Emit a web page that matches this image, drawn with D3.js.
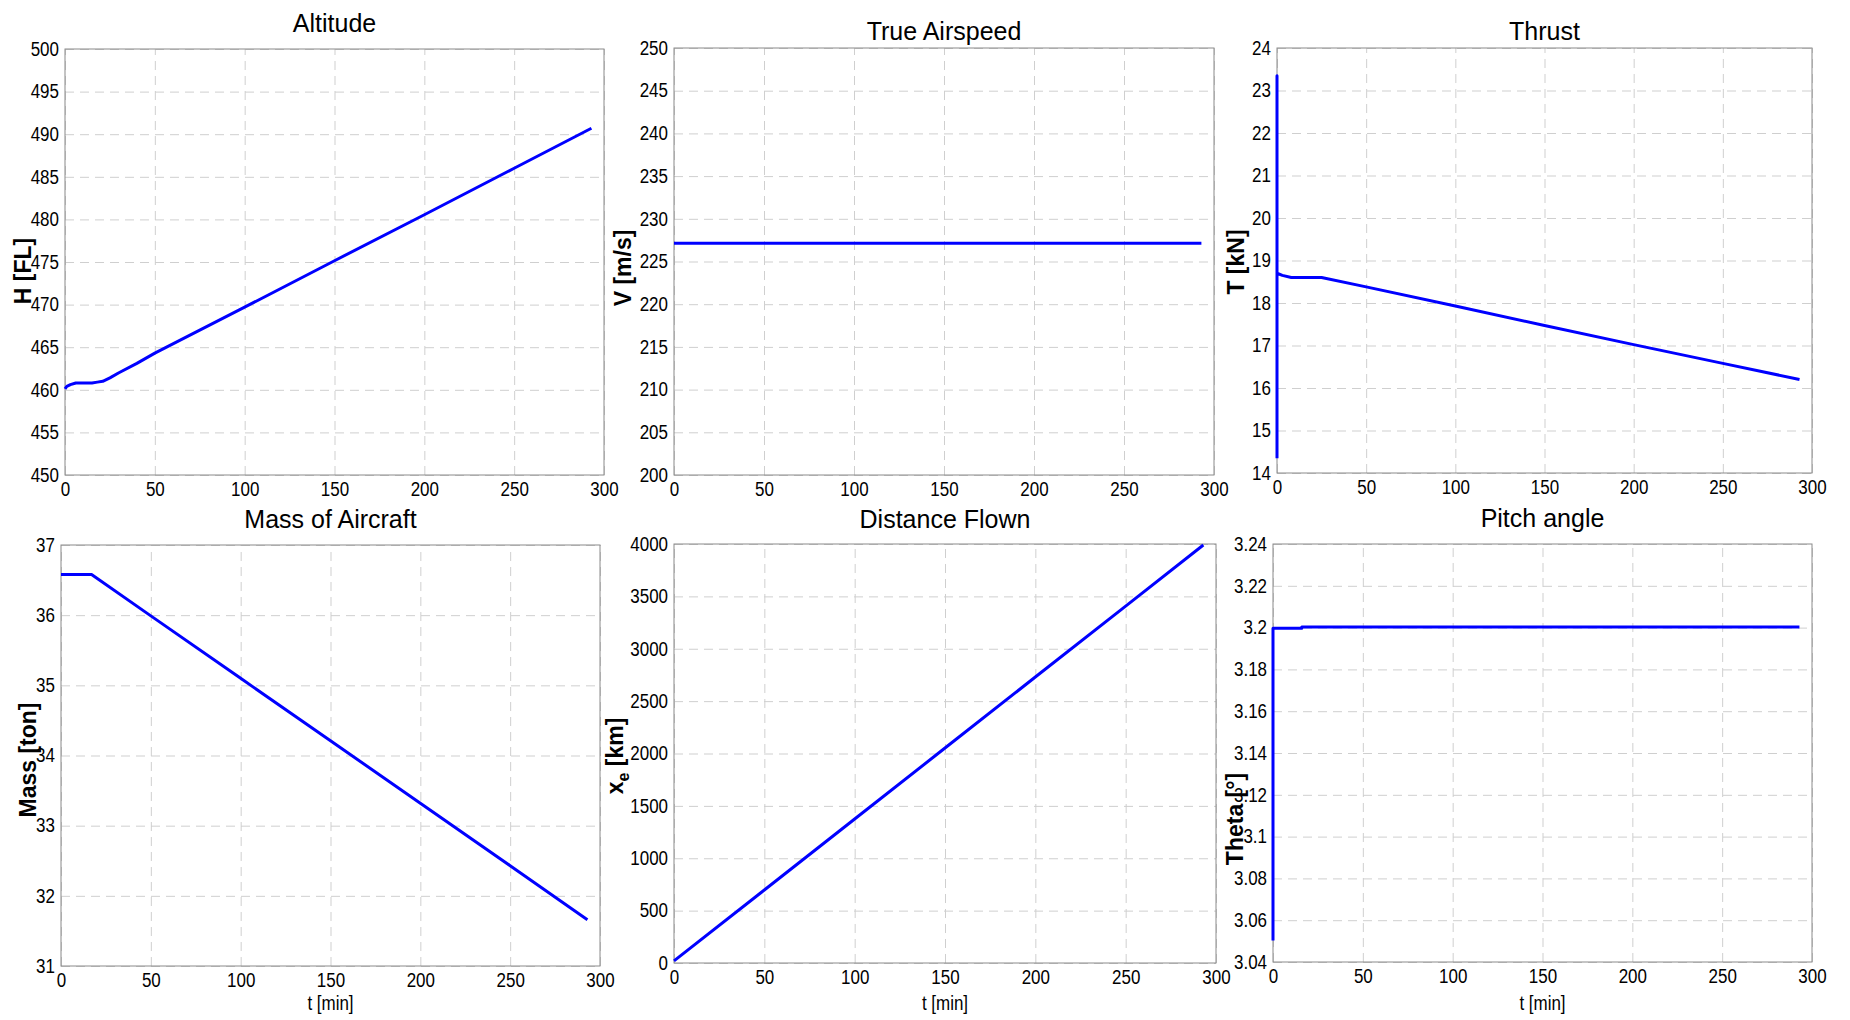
<!DOCTYPE html>
<html>
<head>
<meta charset="utf-8">
<script src="https://cdn.jsdelivr.net/npm/d3@7"></script>
<style>
  body { margin: 0; background: #fff; }
  svg { display: block; font-family: 'Liberation Sans', Arial, sans-serif; }
</style>
</head>
<body>
<div id="chart"></div>
<script>
/* global d3 */

const WIDTH = 1850
const HEIGHT = 1020
const NARROW = 0.87 // tick labels in the figure are a bit condensed

// shared time axis [min]
const timeTicks = [0, 50, 100, 150, 200, 250, 300]

// Altitude [FL]
const altT = [0, 1, 3, 6, 15, 18, 21, 25, 30, 40, 50, 100, 150, 200, 250, 293]
const altH = [460.1, 460.4, 460.6, 460.8, 460.8, 460.9, 461.0, 461.4, 462.0, 463.1, 464.3, 469.7, 475.15, 480.55, 486.0, 490.7]
const altTicks = [450, 455, 460, 465, 470, 475, 480, 485, 490, 495, 500]

// True airspeed [m/s]
const tasT = [0, 293]
const tasV = [227.15, 227.15]
const tasTicks = [200, 205, 210, 215, 220, 225, 230, 235, 240, 245, 250]

// Thrust [kN]
const thrT = [0, 0, 0, 3, 8, 25, 50, 100, 150, 200, 250, 293]
const thrV = [14.35, 23.35, 18.7, 18.65, 18.6, 18.6, 18.38, 17.93, 17.47, 17.02, 16.58, 16.2]
const thrTicks = [14, 15, 16, 17, 18, 19, 20, 21, 22, 23, 24]

// Mass [ton]
const massT = [0, 17, 50, 100, 150, 200, 250, 293]
const massV = [36.58, 36.58, 35.99, 35.1, 34.21, 33.32, 32.43, 31.66]
const massTicks = [31, 32, 33, 34, 35, 36, 37]

// Distance flown [km]
const distT = [0, 50, 100, 150, 200, 250, 293]
const distV = [20, 697, 1375, 2052, 2730, 3407, 3990]
const distTicks = [0, 500, 1000, 1500, 2000, 2500, 3000, 3500, 4000]

// Pitch angle [deg]
const pitT = [0, 0, 16, 16, 293]
const pitV = [3.0503, 3.1997, 3.1997, 3.2003, 3.2003]
const pitTicks = [3.04, 3.06, 3.08, 3.1, 3.12, 3.14, 3.16, 3.18, 3.2, 3.22, 3.24]

const panels = [
  { title: 'Altitude', ylabel: 'H [FL]', t: altT, v: altH, ticks: altTicks,
    box: [65, 49, 604, 475], titleY: 32, ylab: [31, 271] },
  { title: 'True Airspeed', ylabel: 'V [m/s]', t: tasT, v: tasV, ticks: tasTicks,
    box: [674, 48, 1214, 475], titleY: 40, ylab: [631, 268] },
  { title: 'Thrust', ylabel: 'T [kN]', t: thrT, v: thrV, ticks: thrTicks,
    box: [1277, 48, 1812, 473], titleY: 40, ylab: [1244, 262] },
  { title: 'Mass of Aircraft', ylabel: 'Mass [ton]', t: massT, v: massV, ticks: massTicks,
    box: [61, 545, 600, 966], titleY: 528, ylab: [36, 760], xlabel: true },
  { title: 'Distance Flown', ylabel: 'xe', t: distT, v: distV, ticks: distTicks,
    box: [674, 544, 1216, 963], titleY: 528, ylab: [623, 756], xlabel: true },
  { title: 'Pitch angle', ylabel: 'Theta [°]', t: pitT, v: pitV, ticks: pitTicks,
    box: [1273, 544, 1812, 962], titleY: 527, ylab: [1243, 819], xlabel: true }
]

const svg = d3.select('#chart')
  .append('svg')
  .attr('width', WIDTH)
  .attr('height', HEIGHT)

// squeeze a text horizontally to mimic the narrow figure font
function condense(sel) {
  sel.each(function() {
    const len = this.getComputedTextLength()
    if (len > 0) {
      d3.select(this)
        .attr('textLength', len * NARROW)
        .attr('lengthAdjust', 'spacingAndGlyphs')
    }
  })
}

panels.forEach((p) => {
  const [x0, y0, x1, y1] = p.box
  const x = d3.scaleLinear().domain([0, 300]).range([x0, x1])
  const y = d3.scaleLinear().domain(d3.extent(p.ticks)).range([y1, y0])
  const g = svg.append('g')

  // dashed grid
  const styleGrid = (sel) => {
    sel.select('.domain').remove()
    sel.selectAll('line')
      .attr('stroke', '#cfcfcf')
      .attr('stroke-width', 1)
      .attr('stroke-dasharray', '9,6')
  }
  g.append('g')
    .attr('transform', `translate(0,${y1})`)
    .call(d3.axisBottom(x).tickValues(timeTicks).tickSize(-(y1 - y0)).tickFormat(''))
    .call(styleGrid)
  g.append('g')
    .attr('transform', `translate(${x0},0)`)
    .call(d3.axisLeft(y).tickValues(p.ticks).tickSize(-(x1 - x0)).tickFormat(''))
    .call(styleGrid)

  // box
  g.append('rect')
    .attr('x', x0).attr('y', y0)
    .attr('width', x1 - x0).attr('height', y1 - y0)
    .attr('fill', 'none')
    .attr('stroke', '#8a8a8a')
    .attr('stroke-width', 1)

  // tick labels
  const styleTicks = (sel) => {
    sel.select('.domain').remove()
    sel.selectAll('text')
      .attr('fill', '#000')
      .style('font-size', '19.5px')
      .style('font-family', "'Liberation Sans', Arial, sans-serif")
      .call(condense)
  }
  g.append('g')
    .attr('transform', `translate(0,${y1})`)
    .call(d3.axisBottom(x).tickValues(timeTicks).tickSize(0).tickPadding(7).tickFormat(d3.format('d')))
    .call(styleTicks)
  g.append('g')
    .attr('transform', `translate(${x0},0)`)
    .call(d3.axisLeft(y).tickValues(p.ticks).tickSize(0).tickPadding(6).tickFormat((d) => String(+d.toFixed(2))))
    .call(styleTicks)

  // data line
  const line = d3.line()
    .x((d) => x(d[0]))
    .y((d) => y(d[1]))
  g.append('path')
    .datum(p.t.map((t, i) => [t, p.v[i]]))
    .attr('d', line)
    .attr('fill', 'none')
    .attr('stroke', '#0000ff')
    .attr('stroke-width', 3)
    .attr('stroke-linejoin', 'round')

  // title
  g.append('text')
    .attr('x', (x0 + x1) / 2)
    .attr('y', p.titleY)
    .attr('text-anchor', 'middle')
    .style('font-size', '25px')
    .text(p.title)

  // y label (bold, rotated)
  const yl = g.append('text')
    .attr('transform', `translate(${p.ylab[0]},${p.ylab[1]}) rotate(-90)`)
    .attr('text-anchor', 'middle')
    .style('font-size', '23px')
    .style('font-weight', 'bold')
  if (p.ylabel === 'xe') {
    yl.append('tspan').text('x')
    yl.append('tspan').attr('dy', 6).style('font-size', '16px').text('e')
    yl.append('tspan').attr('dy', -6).text(' [km]')
  } else {
    yl.text(p.ylabel)
  }

  // x label on bottom row
  if (p.xlabel) {
    g.append('text')
      .attr('x', (x0 + x1) / 2)
      .attr('y', 1010)
      .attr('text-anchor', 'middle')
      .style('font-size', '19.5px')
      .text('t [min]')
      .call(condense)
  }
})
</script>
</body>
</html>
